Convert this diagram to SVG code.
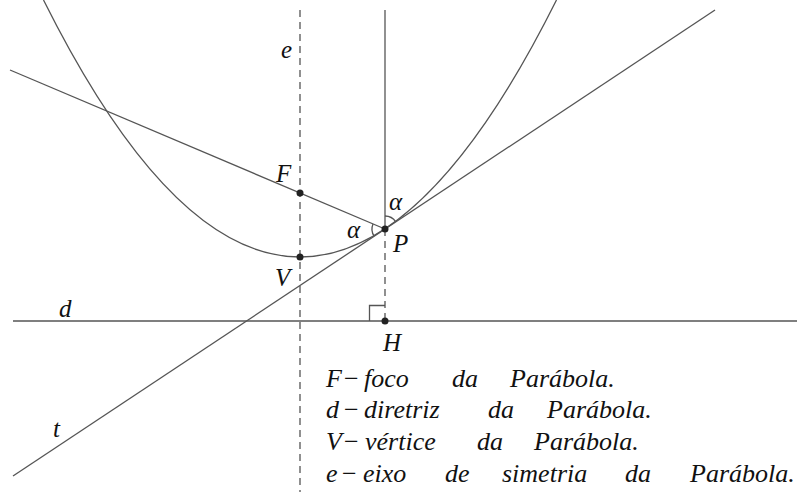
<svg xmlns="http://www.w3.org/2000/svg" width="797" height="492" viewBox="0 0 797 492">
<defs>
<style>
.ln{stroke:#555;stroke-width:1.3;fill:none}
.ds{stroke:#555;stroke-width:1.3;fill:none;stroke-dasharray:7,5}
.pt{fill:#222}
</style>
</defs>
<rect width="797" height="492" fill="#fff"/>
<g id="connectors">
<path id="parabola" class="ln" d="M43.5,0 Q300,514 556.5,0"/>
<line id="axis-e" class="ds" x1="300" y1="10" x2="300" y2="492"/>
<line id="vertical-P" class="ln" x1="385" y1="10" x2="385" y2="229"/>
<line id="PH" class="ds" x1="385" y1="229" x2="385" y2="321"/>
<line id="directrix-d" class="ln" x1="13" y1="321" x2="797" y2="321"/>
<line id="tangent-t" class="ln" x1="13" y1="476" x2="715" y2="10"/>
<line id="line-FP" class="ln" x1="10" y1="70" x2="385" y2="229"/>
<path id="angle1" class="ln" d="M373,223.9 A13,13 0 0 0 374.2,236.2"/>
<path id="angle2" class="ln" d="M385,216 A13,13 0 0 1 395.8,221.8"/>
<path id="right-angle" class="ln" d="M369.5,321 V305.5 H385"/>
</g>
<g id="node-F"><circle class="pt" cx="300" cy="193" r="3.5"/><text x="276" y="182" font-family="Liberation Serif" font-style="italic" font-size="25" fill="#111">F</text></g>
<g id="node-V"><circle class="pt" cx="300" cy="257" r="3.5"/><text x="275" y="286" font-family="Liberation Serif" font-style="italic" font-size="25" fill="#111">V</text></g>
<g id="node-P"><circle class="pt" cx="385" cy="229" r="3.5"/><text x="393" y="252" font-family="Liberation Serif" font-style="italic" font-size="25" fill="#111">P</text></g>
<g id="node-H"><circle class="pt" cx="385" cy="321" r="3.5"/><text x="383" y="351" font-family="Liberation Serif" font-style="italic" font-size="25" fill="#111">H</text></g>
<g id="label-e"><text x="281" y="58" font-family="Liberation Serif" font-style="italic" font-size="25" fill="#111">e</text></g>
<g id="label-d"><text x="59" y="317" font-family="Liberation Serif" font-style="italic" font-size="25" fill="#111">d</text></g>
<g id="label-t"><text x="53" y="437" font-family="Liberation Serif" font-style="italic" font-size="25" fill="#111">t</text></g>
<g id="label-alpha1"><text x="347" y="238" font-family="Liberation Serif" font-style="italic" font-size="25" fill="#111">α</text></g>
<g id="label-alpha2"><text x="389" y="210" font-family="Liberation Serif" font-style="italic" font-size="25" fill="#111">α</text></g>
<g id="legend">
<text x="326" y="387" font-family="Liberation Serif" font-style="italic" font-size="26" fill="#111">F</text>
<text x="344" y="387" font-family="Liberation Serif" font-size="26" fill="#111">−</text>
<text x="364" y="387" font-family="Liberation Serif" font-style="italic" font-size="26" fill="#111">foco</text>
<text x="452" y="387" font-family="Liberation Serif" font-style="italic" font-size="26" fill="#111">da</text>
<text x="510" y="387" font-family="Liberation Serif" font-style="italic" font-size="26" fill="#111">Parábola.</text>
<text x="326" y="418" font-family="Liberation Serif" font-style="italic" font-size="26" fill="#111">d</text>
<text x="344" y="418" font-family="Liberation Serif" font-size="26" fill="#111">−</text>
<text x="364" y="418" font-family="Liberation Serif" font-style="italic" font-size="26" fill="#111">diretriz</text>
<text x="488" y="418" font-family="Liberation Serif" font-style="italic" font-size="26" fill="#111">da</text>
<text x="547" y="418" font-family="Liberation Serif" font-style="italic" font-size="26" fill="#111">Parábola.</text>
<text x="326" y="450" font-family="Liberation Serif" font-style="italic" font-size="26" fill="#111">V</text>
<text x="344" y="450" font-family="Liberation Serif" font-size="26" fill="#111">−</text>
<text x="365" y="450" font-family="Liberation Serif" font-style="italic" font-size="26" fill="#111">vértice</text>
<text x="477" y="450" font-family="Liberation Serif" font-style="italic" font-size="26" fill="#111">da</text>
<text x="534" y="450" font-family="Liberation Serif" font-style="italic" font-size="26" fill="#111">Parábola.</text>
<text x="326" y="482" font-family="Liberation Serif" font-style="italic" font-size="26" fill="#111">e</text>
<text x="342" y="482" font-family="Liberation Serif" font-size="26" fill="#111">−</text>
<text x="363" y="482" font-family="Liberation Serif" font-style="italic" font-size="26" fill="#111">eixo</text>
<text x="445" y="482" font-family="Liberation Serif" font-style="italic" font-size="26" fill="#111">de</text>
<text x="502" y="482" font-family="Liberation Serif" font-style="italic" font-size="26" fill="#111">simetria</text>
<text x="625" y="482" font-family="Liberation Serif" font-style="italic" font-size="26" fill="#111">da</text>
<text x="690" y="482" font-family="Liberation Serif" font-style="italic" font-size="26" fill="#111">Parábola.</text>
</g>
</svg>
